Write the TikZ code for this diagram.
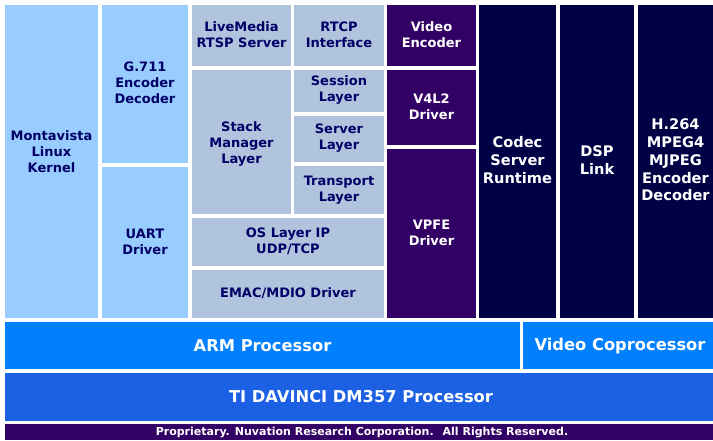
\documentclass[tikz,border=0pt]{standalone}
\usepackage{fontspec}
\setmainfont{DejaVu Sans}
\newcommand*{\blockfont}{\fontsize{13}{16}\selectfont\bfseries}
\newcommand*{\tallfont}{\fontsize{14.6}{17.7}\selectfont\bfseries}
\newcommand*{\busfont}{\fontsize{16.3}{18}\selectfont\bfseries}
\newcommand*{\notefont}{\fontsize{11}{12}\selectfont\bfseries}
\definecolor{kern}{HTML}{99CCFF}
\definecolor{net}{HTML}{B0C4DE}
\definecolor{drv}{HTML}{330066}
\definecolor{dsp}{HTML}{000044}
\definecolor{arm}{HTML}{0080FF}
\definecolor{soc}{HTML}{1C60E4}
\definecolor{ink}{HTML}{000066}
\usetikzlibrary{positioning}
\tikzstyle{base}=[x=1pt, y=-1pt, inner sep=0pt, outer sep=0pt]
\tikzstyle{light}=[ink, align=center]
\tikzstyle{dark}=[white, align=center]

\begin{document}
\begin{tikzpicture}[base]
    \blockfont
        \path [use as bounding box] (0,0) rectangle (713,440);
        % linux side
        \fill [kern] (5,5) rectangle (98,318);
        \fill [kern] (102,5) rectangle (188,163);
        \fill [kern] (102,167) rectangle (188,318);
        \node [light] (kernel) at (51.5,152) {Montavista\\Linux\\Kernel};
        \node [light] (g711) at (145,83) {G.711\\Encoder\\Decoder};
        \node [light] (uart) at (145,242) {UART\\Driver};
        % network stack
        \fill [net] (192,5) rectangle (291,66);
        \fill [net] (294,5) rectangle (384,66);
        \fill [net] (192,70) rectangle (291,214);
        \fill [net] (294,70) rectangle (384,112);
        \fill [net] (294,116) rectangle (384,162);
        \fill [net] (294,166) rectangle (384,214);
        \fill [net] (192,218) rectangle (384,266);
        \fill [net] (192,270) rectangle (384,318);
        \node [light] (rtsp) at (241.5,35) {LiveMedia\\RTSP Server};
        \node [light] (rtcp) at (339,35) {RTCP\\Interface};
        \node [light] (stack) at (241.5,144) {Stack\\Manager\\Layer};
        \node [light] (session) at (339,90) {Session\\Layer};
        \node [light] (server) at (339,138) {Server\\Layer};
        \node [light] (transport) at (339,190) {Transport\\Layer};
        \node [light] (oslayer) at (288,241) {OS Layer IP\\UDP/TCP};
        \node [light] (emac) at (288,293) {EMAC/MDIO Driver};
        % video drivers
        \fill [drv] (387,5) rectangle (476,66);
        \fill [drv] (387,70) rectangle (476,145);
        \fill [drv] (387,149) rectangle (476,318);
        \node [dark] (venc) at (431.5,35) {Video\\Encoder};
        \node [dark] (v4l2) at (431.5,107) {V4L2\\Driver};
        \node [dark] (vpfe) at (431.5,233) {VPFE\\Driver};
        % dsp side
        \fill [dsp] (479,5) rectangle (556,318);
        \fill [dsp] (560,5) rectangle (634,318);
        \fill [dsp] (638,5) rectangle (713,318);
        \node [dark, font=\tallfont] (codec) at (517.5,160) {Codec\\Server\\Runtime};
        \node [dark, font=\tallfont] (dsplink) at (597,160) {DSP\\Link};
        \node [dark, font=\tallfont] (h264) at (675.5,160) {H.264\\MPEG4\\MJPEG\\Encoder\\Decoder};
        % processors
        \fill [arm] (5,322) rectangle (520,369);
        \fill [arm] (523,322) rectangle (713,369);
        \fill [soc] (5,373) rectangle (713,421);
        \node [dark, font=\busfont] (armcpu) at (262.5,345.5) {ARM Processor};
        \node [dark, font=\busfont] (vcop) at (620,345.5) {Video Coprocessor};
        \node [dark, font=\busfont] (davinci) at (361,397) {TI DAVINCI DM357 Processor};
        \fill [drv] (5,424) rectangle (713,440);
        \node [dark, font=\notefont] (note) at (362,432.5) {Proprietary. Nuvation Research Corporation.~ All Rights Reserved.};
    \end{tikzpicture}
\end{document}
